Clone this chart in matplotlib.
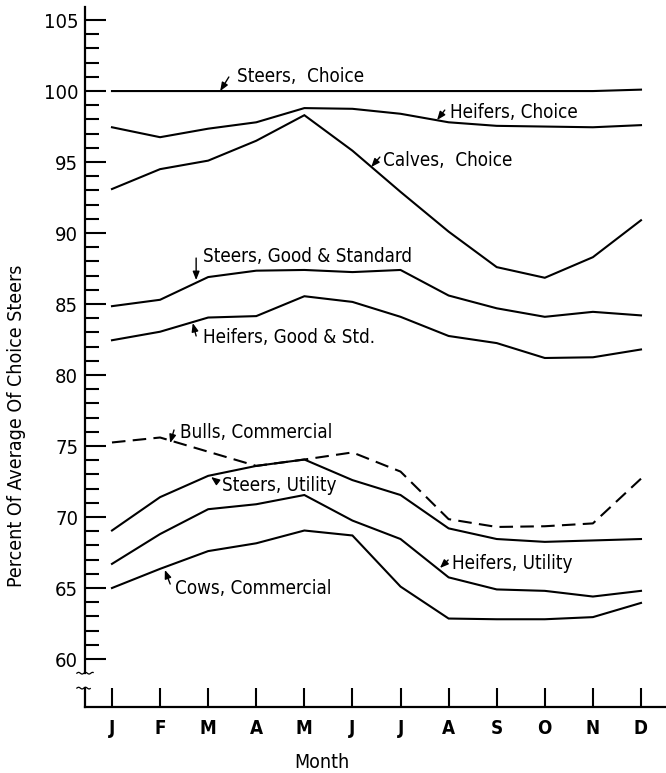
import matplotlib
matplotlib.use("Agg")
import matplotlib.pyplot as plt
import numpy as np

# Monthly prices of cattle classes as percent of the average price of Choice steers
months = ["J", "F", "M", "A", "M", "J", "J", "A", "S", "O", "N", "D"]

steers_choice = [100.0, 100.0, 100.0, 100.0, 100.0, 100.0, 100.0, 100.0, 100.0, 100.0, 100.0, 100.1]
heifers_choice = [97.45, 96.75, 97.35, 97.8, 98.8, 98.75, 98.4, 97.8, 97.55, 97.5, 97.45, 97.6]
calves_choice = [93.1, 94.5, 95.1, 96.5, 98.3, 95.8, 92.9, 90.1, 87.6, 86.85, 88.3, 90.9]
steers_good_std = [84.85, 85.3, 86.9, 87.35, 87.4, 87.25, 87.4, 85.6, 84.7, 84.1, 84.45, 84.2]
heifers_good_std = [82.45, 83.05, 84.05, 84.15, 85.55, 85.15, 84.1, 82.75, 82.25, 81.2, 81.25, 81.8]
bulls_commercial = [75.25, 75.6, 74.6, 73.6, 74.05, 74.55, 73.2, 69.85, 69.3, 69.35, 69.55, 72.7]
steers_utility = [69.05, 71.4, 72.9, 73.6, 74.05, 72.6, 71.55, 69.2, 68.45, 68.25, 68.35, 68.45]
heifers_utility = [66.7, 68.8, 70.55, 70.9, 71.55, 69.75, 68.45, 65.75, 64.9, 64.8, 64.4, 64.8]
cows_commercial = [65.0, 66.35, 67.6, 68.15, 69.05, 68.7, 65.1, 62.85, 62.8, 62.8, 62.95, 63.95]

y_major = list(range(60, 106, 5))

plt.rcParams["font.family"] = ["DejaVu Sans"]
FONT = dict(family="DejaVu Sans", stretch="condensed")
FS = 13.5
LW = 1.5

W, H = 666, 773
fig = plt.figure(figsize=(W / 100, H / 100), dpi=100)
ax_left, ax_right, ax_top, ax_bottom = 85, 666, 7, 707
ax = fig.add_axes([ax_left / W, 1 - ax_bottom / H,
                   (ax_right - ax_left) / W, (ax_bottom - ax_top) / H])

x = np.arange(len(months))
series = [steers_choice, heifers_choice, calves_choice, steers_good_std,
          heifers_good_std, steers_utility, heifers_utility, cows_commercial]
for s in series:
    ax.plot(x, s, color="black", lw=LW, solid_joinstyle="miter")
ax.plot(x, bulls_commercial, color="black", lw=LW, dashes=(6.5, 3.5))

ax.set_xlim(-0.561, 11.52)
ax.set_ylim(56.62, 105.92)

# axes styling
for side in ("top", "right"):
    ax.spines[side].set_visible(False)
ax.spines["left"].set_bounds(59.0, 105.92)
ax.spines["left"].set_linewidth(1.6)
ax.spines["bottom"].set_linewidth(1.6)

ax.set_yticks(y_major)
ax.set_yticks([v for v in range(60, 106) if v not in y_major], minor=True)
ax.set_yticklabels([str(v) for v in y_major], fontsize=14.5, **FONT)
ax.tick_params(axis="y", which="major", direction="in", length=15, width=1.5, pad=5)
ax.tick_params(axis="y", which="minor", direction="in", length=10, width=1.5)

ax.set_xticks(x)
ax.set_xticklabels(months, fontsize=13.5, fontweight="semibold", **FONT)
ax.tick_params(axis="x", direction="in", length=13.7, width=1.5, pad=9)

# broken axis: lower stub of the vertical axis and the break marks
trans = ax.get_yaxis_transform()
ax.plot([0, 0], [57.95, 56.62], color="black", lw=1.6, transform=trans, clip_on=False)
for yb, x0, x1 in ((59.0, -0.014, 0.014), (57.95, -0.014, 0.009)):
    wave = np.linspace(x0, x1, 24)
    ax.plot(wave, yb + 0.06 * np.sin((wave - x0) / 0.012 * 2 * np.pi),
            color="black", lw=0.9, transform=trans, clip_on=False)

ax.set_ylabel("Percent Of Average Of Choice Steers", fontsize=14, **FONT)
ax.yaxis.set_label_coords(-0.102, 0.401)
fig.text(322 / W, 1 - 763 / H, "Month", ha="center", va="center", fontsize=14, **FONT)

# series labels with small leader arrows
labels = [
    ("Steers,  Choice", (2.60, 101.06), (2.43, 100.99), (2.25, 100.0)),
    ("Heifers, Choice", (7.03, 98.52), (6.92, 98.66), (6.76, 97.96)),
    ("Calves,  Choice", (5.64, 95.14), (5.57, 95.35), (5.39, 94.65)),
    ("Steers, Good & Standard", (1.89, 88.38), (1.75, 88.24), (1.75, 86.69)),
    ("Heifers, Good & Std.", (1.89, 82.61), (1.75, 82.75), (1.68, 83.66)),
    ("Bulls, Commercial", (1.41, 75.92), (1.29, 76.13), (1.21, 75.21)),
    ("Steers, Utility", (2.29, 72.25), (2.20, 72.46), (2.06, 72.82)),
    ("Heifers, Utility", (7.07, 66.76), (6.99, 66.97), (6.82, 66.41)),
    ("Cows, Commercial", (1.31, 65.0), (1.21, 65.28), (1.10, 66.27)),
]
for text, tpos, tail, head in labels:
    ax.text(tpos[0], tpos[1], text, ha="left", va="center", fontsize=FS, **FONT)
    ax.annotate("", xy=head, xytext=tail,
                arrowprops=dict(arrowstyle="-|>,head_length=0.5,head_width=0.2",
                                color="black", lw=1.0, shrinkA=0, shrinkB=0,
                                mutation_scale=10))

fig.savefig("out.png", dpi=100)
